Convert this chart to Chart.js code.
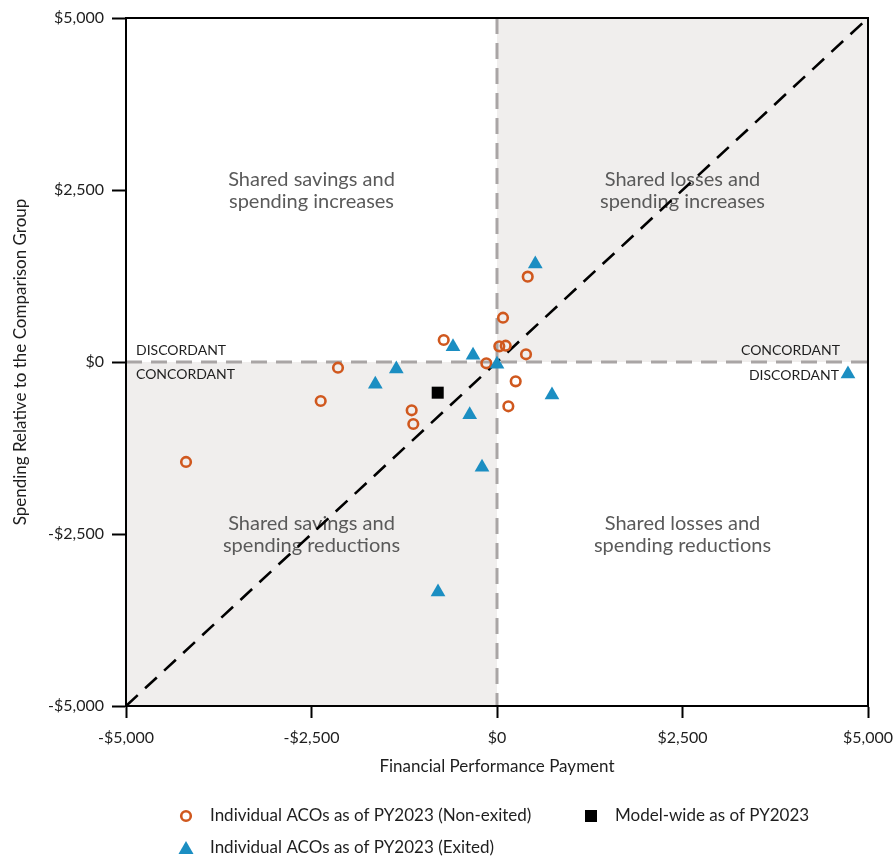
<!DOCTYPE html>
<html>
<head>
<meta charset="utf-8">
<script src="https://cdn.jsdelivr.net/npm/chart.js@4.4.1/dist/chart.umd.min.js"></script>
<style>
  html, body { margin: 0; padding: 0; background: #ffffff; }
  #wrap { width: 896px; height: 858px; position: relative; }
</style>
</head>
<body>
<div id="wrap"><canvas id="c" width="896" height="858"></canvas></div>
<script>
// ---- Data ----
const nonExitedX = [414, 81, -718, 31, 117, 391, -144, -2143, -2376, -1150, -1128, 252, 153, -4191];
const nonExitedY = [1240, 644, 320, 228, 237, 112, -19, -83, -567, -702, -901, -281, -644, -1453];
const exitedX = [516, -593, -323, 0, -1357, -1640, -368, 741, -202, -795, 4730];
const exitedY = [1424, 222, 97, -33, -102, -324, -766, -480, -1531, -3343, -174];
const modelWideX = [-799];
const modelWideY = [-446];
const diagonalX = [-5000, 5000];
const diagonalY = [-5000, 5000];
const xTickValues = [-5000, -2500, 0, 2500, 5000];
const xTickLabels = ['-$5,000', '-$2,500', '$0', '$2,500', '$5,000'];
const yTickValues = [-5000, -2500, 0, 2500, 5000];
const yTickLabels = ['-$5,000', '-$2,500', '$0', '$2,500', '$5,000'];
const quadrantLabels = [
  { x: -2500, y: 2500, lines: ['Shared savings and', 'spending increases'] },
  { x: 2500, y: 2500, lines: ['Shared losses and', 'spending increases'] },
  { x: -2500, y: -2500, lines: ['Shared savings and', 'spending reductions'] },
  { x: 2500, y: -2500, lines: ['Shared losses and', 'spending reductions'] }
];
const seriesNames = ['Individual ACOs as of PY2023 (Non-exited)', 'Model-wide as of PY2023', 'Individual ACOs as of PY2023 (Exited)'];
const xTitle = 'Financial Performance Payment';
const yTitle = 'Spending Relative to the Comparison Group';

const ORANGE = '#d0581e';
const BLUE = '#1b8ec2';
const SHADE = '#f0eeed';
const DASHGRAY = '#a9a5a5';
const TEXT = '#1e1e1e';
const QTEXT = '#5a5a5a';
const FONT = 'Lato, "Liberation Sans", sans-serif';

const toPts = (xs, ys) => xs.map((x, i) => ({ x: x, y: ys[i] }));

const quadPlugin = {
  id: 'quadPlugin',
  beforeDatasetsDraw(chart) {
    const { ctx, chartArea: a, scales: { x, y } } = chart;
    const x0 = x.getPixelForValue(0), y0 = y.getPixelForValue(0);
    ctx.save();
    ctx.fillStyle = SHADE;
    ctx.fillRect(x0, a.top, a.right - x0, y0 - a.top);
    ctx.fillRect(a.left, y0, x0 - a.left, a.bottom - y0);
    // dashed zero lines
    ctx.strokeStyle = DASHGRAY;
    ctx.lineWidth = 3;
    ctx.setLineDash([16, 9]);
    ctx.beginPath();
    ctx.moveTo(a.left, y0); ctx.lineTo(a.right, y0);
    ctx.moveTo(x0, a.top); ctx.lineTo(x0, a.bottom);
    ctx.stroke();
    ctx.setLineDash([]);
    // quadrant labels
    ctx.fillStyle = QTEXT;
    ctx.font = '20px ' + FONT;
    ctx.textAlign = 'center';
    ctx.textBaseline = 'middle';
    quadrantLabels.forEach(q => {
      const px = x.getPixelForValue(q.x), py = y.getPixelForValue(q.y);
      ctx.fillText(q.lines[0], px, py - 10);
      ctx.fillText(q.lines[1], px, py + 12);
    });
    // concordant / discordant labels
    ctx.fillStyle = TEXT;
    ctx.font = '14px ' + FONT;
    ctx.textAlign = 'left';
    ctx.fillText('DISCORDANT', a.left + 10, y0 - 12);
    ctx.fillText('CONCORDANT', a.left + 10, y0 + 12);
    ctx.textAlign = 'right';
    ctx.fillText('CONCORDANT', a.right - 28, y0 - 12);
    ctx.fillText('DISCORDANT', a.right - 29, y0 + 13);
    ctx.restore();
  },
  afterDraw(chart) {
    const { ctx, chartArea: a } = chart;
    ctx.save();
    ctx.strokeStyle = '#000';
    ctx.lineWidth = 2;
    ctx.strokeRect(a.left, a.top, a.right - a.left, a.bottom - a.top);
    // legend
    ctx.font = '17px ' + FONT;
    ctx.fillStyle = TEXT;
    ctx.textAlign = 'left';
    ctx.textBaseline = 'middle';
    // circle
    ctx.beginPath();
    ctx.arc(186, 816, 4.8, 0, Math.PI * 2);
    ctx.strokeStyle = ORANGE; ctx.lineWidth = 2.6; ctx.stroke();
    ctx.fillText(seriesNames[0], 210, 816);
    // square
    ctx.fillStyle = '#000';
    ctx.fillRect(585, 810, 12, 12);
    ctx.fillStyle = TEXT;
    ctx.fillText(seriesNames[1], 615, 816);
    // triangle
    ctx.fillStyle = BLUE;
    ctx.beginPath();
    ctx.moveTo(186, 841); ctx.lineTo(193.5, 854); ctx.lineTo(178.5, 854); ctx.closePath();
    ctx.fill();
    ctx.fillStyle = TEXT;
    ctx.fillText(seriesNames[2], 210, 848);
    ctx.restore();
  }
};

new Chart(document.getElementById('c'), {
  type: 'scatter',
  data: {
    datasets: [
      { label: seriesNames[1], data: toPts(modelWideX, modelWideY), pointStyle: 'rect', pointRadius: 8.5, backgroundColor: '#000', borderColor: '#000', borderWidth: 0, order: 0 },
      { label: seriesNames[2], data: toPts(exitedX, exitedY), pointStyle: 'triangle', pointRadius: 8.5, backgroundColor: BLUE, borderColor: BLUE, borderWidth: 0, order: 1 },
      { label: seriesNames[0], data: toPts(nonExitedX, nonExitedY), pointStyle: 'circle', pointRadius: 4.8, backgroundColor: 'rgba(0,0,0,0)', borderColor: ORANGE, borderWidth: 2.6, order: 2 },
      { label: 'diagonal', data: toPts(diagonalX, diagonalY), showLine: true, pointRadius: 0, borderColor: '#000', borderWidth: 2.6, borderDash: [16, 10], fill: false, order: 3 }
    ]
  },
  options: {
    responsive: false,
    animation: false,
    events: [],
    layout: { padding: { left: 0, top: 18, right: 28, bottom: 0 } },
    plugins: { legend: { display: false }, tooltip: { enabled: false } },
    scales: {
      x: {
        type: 'linear', min: -5000, max: 5000,
        afterBuildTicks: s => { s.ticks = xTickValues.map(v => ({ value: v })); },
        afterFit: s => { s.height = 152; s.paddingLeft = 0; s.paddingRight = 0; },
        ticks: { callback: v => xTickLabels[xTickValues.indexOf(v)], color: TEXT, font: { family: FONT, size: 16 }, padding: 10, maxRotation: 0, autoSkip: false },
        grid: { drawOnChartArea: false, drawTicks: true, tickLength: 12, tickWidth: 2, tickColor: '#000' },
        border: { display: true, color: '#000', width: 2 },
        title: { display: true, text: xTitle, color: TEXT, font: { family: FONT, size: 17 }, padding: { top: 0, bottom: 81 } }
      },
      y: {
        type: 'linear', min: -5000, max: 5000,
        afterBuildTicks: s => { s.ticks = yTickValues.map(v => ({ value: v })); },
        afterFit: s => { s.width = 126; s.paddingTop = 0; s.paddingBottom = 0; },
        ticks: { callback: v => yTickLabels[yTickValues.indexOf(v)], color: TEXT, font: { family: FONT, size: 16 }, padding: 8, autoSkip: false },
        grid: { drawOnChartArea: false, drawTicks: true, tickLength: 14, tickWidth: 2, tickColor: '#000' },
        border: { display: true, color: '#000', width: 2 },
        title: { display: true, text: yTitle, color: TEXT, font: { family: FONT, size: 17 }, padding: { top: 10, bottom: 0 } }
      }
    }
  },
  plugins: [quadPlugin]
});
</script>
</body>
</html>
